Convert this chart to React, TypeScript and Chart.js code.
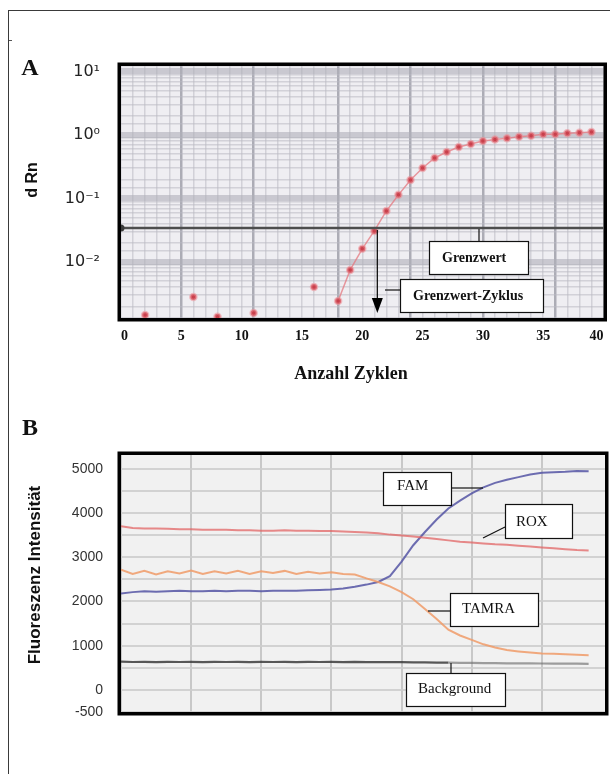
import React, { useEffect, useRef } from 'react';
import { Chart, registerables } from 'chart.js';
Chart.register(...registerables);

// ---------------- Panel A data (log dRn vs cycle) ----------------
const lowCycles = [2, 6, 8, 11, 16];
const lowDRn = [0.00146, 0.00281, 0.00137, 0.00157, 0.00404];
const curveCycles = [18, 19, 20, 21, 22, 23, 24, 25, 26, 27, 28, 29, 30, 31, 32, 33, 34, 35, 36, 37, 38, 39];
const curveDRn = [0.00243, 0.0075, 0.0161, 0.0308, 0.0636, 0.114, 0.196, 0.302, 0.434, 0.54, 0.647, 0.722, 0.805, 0.85, 0.887, 0.94, 0.975, 1.025, 1.025, 1.06, 1.087, 1.115];
const thresholdValue = 0.0343;
const thresholdCycle = 21.25;
const xLabelCyclesA = [0, 5, 10, 15, 20, 25, 30, 35, 40];
const yDecadesA = [0.01, 0.1, 1, 10];
const yLabelsA = ['10⁻²', '10⁻¹', '10⁰', '10¹'];
const xDarkGridA = [5, 11, 18, 24, 30, 36];

// ---------------- Panel B data (fluorescence vs cycle) ----------------
const cyclesB = [0, 1, 2, 3, 4, 5, 6, 7, 8, 9, 10, 11, 12, 13, 14, 15, 16, 17, 18, 19, 20, 21, 22, 23, 24, 25, 26, 27, 28, 29, 30, 31, 32, 33, 34, 35, 36, 37, 38, 39, 40];
const famB = [2180, 2210, 2230, 2220, 2230, 2240, 2230, 2230, 2240, 2230, 2240, 2240, 2230, 2240, 2240, 2240, 2250, 2260, 2270, 2290, 2330, 2380, 2440, 2570, 2900, 3270, 3570, 3850, 4100, 4280, 4440, 4580, 4680, 4750, 4810, 4870, 4910, 4920, 4930, 4950, 4940];
const roxB = [3700, 3660, 3650, 3650, 3640, 3630, 3630, 3620, 3620, 3620, 3610, 3610, 3600, 3600, 3610, 3600, 3600, 3590, 3590, 3580, 3570, 3560, 3540, 3510, 3490, 3470, 3440, 3410, 3380, 3350, 3330, 3310, 3290, 3280, 3260, 3240, 3220, 3200, 3180, 3160, 3150];
const tamraB = [2720, 2620, 2690, 2610, 2680, 2630, 2700, 2620, 2680, 2630, 2690, 2620, 2680, 2640, 2690, 2620, 2670, 2630, 2660, 2620, 2610, 2520, 2440, 2340, 2210, 2050, 1830, 1600, 1360, 1230, 1130, 1030, 960, 900, 870, 845, 825, 815, 805, 795, 785];
const backgroundB = [640, 630, 635, 628, 632, 630, 634, 628, 632, 630, 634, 628, 632, 630, 633, 628, 632, 630, 634, 629, 632, 628, 630, 626, 628, 624, 622, 618, 616, 612, 610, 606, 604, 600, 600, 598, 596, 594, 594, 592, 590];
const yGridB = [-500, 0, 500, 1000, 1500, 2000, 2500, 3000, 3500, 4000, 4500, 5000];
const yLabelsB = [-500, 0, 1000, 2000, 3000, 4000, 5000];
const xGridB = [0, 6, 12, 18, 24, 30, 36];

const SERIF = '"Liberation Serif", "Times New Roman", serif';
const SANS = '"Liberation Sans", Arial, sans-serif';

function drawBox(ctx: CanvasRenderingContext2D, x0: number, y0: number, x1: number, y1: number) {
  ctx.fillStyle = '#ffffff';
  ctx.fillRect(x0, y0, x1 - x0, y1 - y0);
  ctx.strokeStyle = '#111';
  ctx.lineWidth = 1.2;
  ctx.strokeRect(x0 + 0.5, y0 + 0.5, x1 - x0 - 1, y1 - y0 - 1);
}
function drawLine(ctx: CanvasRenderingContext2D, x0: number, y0: number, x1: number, y1: number, w = 1.2) {
  ctx.strokeStyle = '#111';
  ctx.lineWidth = w;
  ctx.beginPath();
  ctx.moveTo(x0, y0);
  ctx.lineTo(x1, y1);
  ctx.stroke();
}
function drawText(ctx: CanvasRenderingContext2D, t: string, x: number, y: number, font: string, align: CanvasTextAlign = 'left', baseline: CanvasTextBaseline = 'alphabetic') {
  ctx.fillStyle = '#111';
  ctx.font = font;
  ctx.textAlign = align;
  ctx.textBaseline = baseline;
  ctx.fillText(t, x, y);
}
function drawRotText(ctx: CanvasRenderingContext2D, t: string, x: number, y: number, font: string) {
  ctx.save();
  ctx.translate(x, y);
  ctx.rotate(-Math.PI / 2);
  drawText(ctx, t, 0, 0, font, 'center', 'middle');
  ctx.restore();
}
function frameArea(ctx: CanvasRenderingContext2D, a: any) {
  ctx.strokeStyle = '#000';
  ctx.lineWidth = 3.5;
  ctx.strokeRect(a.left - 1.75, a.top - 1.75, a.right - a.left + 3.5, a.bottom - a.top + 3.5);
}
function noPad(s: any) {
  s.paddingLeft = 0;
  s.paddingRight = 0;
  s.paddingTop = 0;
  s.paddingBottom = 0;
}

const isDecade = (v: number) => {
  const l = Math.log10(v);
  return Math.abs(l - Math.round(l)) < 1e-6;
};

const panelAPlugin = {
  id: 'panelA',
  beforeDraw(chart: any) {
    const { ctx, chartArea: a } = chart;
    ctx.save();
    ctx.fillStyle = '#efeef2';
    ctx.fillRect(a.left, a.top, a.right - a.left, a.bottom - a.top);
    ctx.restore();
  },
  afterDraw(chart: any) {
    const { ctx, chartArea: a, scales } = chart;
    const xs = scales.x, ys = scales.y;
    ctx.save();
    frameArea(ctx, a);
    // threshold-cycle arrow
    const ax = xs.getPixelForValue(thresholdCycle);
    const ay = ys.getPixelForValue(thresholdValue) + 2;
    const tip = a.bottom - 5;
    drawLine(ctx, ax, ay, ax, tip - 12, 1.3);
    ctx.fillStyle = '#000';
    ctx.beginPath();
    ctx.moveTo(ax - 5.5, tip - 15);
    ctx.lineTo(ax + 5.5, tip - 15);
    ctx.lineTo(ax, tip);
    ctx.closePath();
    ctx.fill();
    // Grenzwert box
    const L = a.left, T = a.top;
    const ty = ys.getPixelForValue(thresholdValue);
    drawLine(ctx, L + 358, ty + 1, L + 358, T + 175);
    drawBox(ctx, L + 308, T + 175, L + 408, T + 209);
    drawText(ctx, 'Grenzwert', L + 321, T + 196, 'bold 14px ' + SERIF);
    // Grenzwert-Zyklus box
    drawLine(ctx, L + 264, T + 224, L + 279, T + 224);
    drawBox(ctx, L + 279, T + 213, L + 423, T + 247);
    drawText(ctx, 'Grenzwert-Zyklus', L + 292, T + 234, 'bold 14px ' + SERIF);
    // panel letter & axis titles
    drawText(ctx, 'A', 30, 38.5, 'bold 24px ' + SERIF, 'center', 'middle');
    drawRotText(ctx, 'd Rn', 33, 150, 'bold 16px ' + SANS);
    drawText(ctx, 'Anzahl Zyklen', 351, 344, 'bold 18px ' + SERIF, 'center', 'middle');
    ctx.restore();
  },
};

const panelBPlugin = {
  id: 'panelB',
  beforeDraw(chart: any) {
    const { ctx, chartArea: a } = chart;
    ctx.save();
    ctx.fillStyle = '#f1f1f1';
    ctx.fillRect(a.left, a.top, a.right - a.left, a.bottom - a.top);
    ctx.restore();
  },
  afterDraw(chart: any) {
    const { ctx, chartArea: a } = chart;
    const L = a.left, T = a.top;
    ctx.save();
    frameArea(ctx, a);
    const f = '15px ' + SERIF;
    // FAM
    drawLine(ctx, L + 331, T + 33, L + 362, T + 33);
    drawBox(ctx, L + 262, T + 17, L + 331, T + 51);
    drawText(ctx, 'FAM', L + 276, T + 35, f);
    // ROX
    drawLine(ctx, L + 384, T + 72, L + 362, T + 83);
    drawBox(ctx, L + 384, T + 49, L + 452, T + 84);
    drawText(ctx, 'ROX', L + 395, T + 71, f);
    // TAMRA
    drawLine(ctx, L + 307, T + 156, L + 329, T + 156);
    drawBox(ctx, L + 329, T + 138, L + 418, T + 172);
    drawText(ctx, 'TAMRA', L + 341, T + 158, f);
    // Background
    drawLine(ctx, L + 330, T + 208, L + 330, T + 218);
    drawBox(ctx, L + 285, T + 218, L + 385, T + 252);
    drawText(ctx, 'Background', L + 297, T + 238, f);
    // letter & title
    drawText(ctx, 'B', 30, 28.5, 'bold 24px ' + SERIF, 'center', 'middle');
    drawRotText(ctx, 'Fluoreszenz Intensität', 35, 175, 'bold 17px ' + SANS);
    ctx.restore();
  },
};

export default function App() {
  const refA = useRef<HTMLCanvasElement>(null);
  const refB = useRef<HTMLCanvasElement>(null);

  useEffect(() => {
    const pointStyle = {
      pointRadius: 3,
      pointBackgroundColor: '#c8404c',
      pointBorderColor: 'rgba(236,140,148,0.55)',
      pointBorderWidth: 2.5,
    };
    const chartA = new Chart(refA.current!, {
      type: 'scatter',
      data: {
        datasets: [
          {
            label: 'Grenzwert',
            data: [{ x: 0, y: thresholdValue }, { x: 40, y: thresholdValue }],
            showLine: true,
            borderColor: '#4d4d4d',
            borderWidth: 2.5,
            pointRadius: [3.5, 0],
            pointBackgroundColor: '#3a3a3a',
            pointBorderWidth: 0,
          } as any,
          {
            label: 'dRn',
            data: curveCycles.map((c, i) => ({ x: c, y: curveDRn[i] })),
            showLine: true,
            borderColor: 'rgba(228,120,128,0.75)',
            borderWidth: 1.5,
            ...pointStyle,
          } as any,
          {
            label: 'dRn (Hintergrund)',
            data: lowCycles.map((c, i) => ({ x: c, y: lowDRn[i] })),
            showLine: false,
            ...pointStyle,
          } as any,
        ],
      },
      options: {
        animation: false,
        responsive: false,
        maintainAspectRatio: false,
        layout: { padding: { top: 36, right: 5, left: 0, bottom: 0 } },
        plugins: { legend: { display: false }, tooltip: { enabled: false } },
        scales: {
          x: {
            type: 'linear',
            min: 0,
            max: 40,
            ticks: {
              stepSize: 1,
              autoSkip: false,
              maxRotation: 0,
              align: 'inner',
              padding: 10,
              color: '#111',
              font: { family: SERIF, size: 14, weight: 'bold' },
              callback: (v: any) => (xLabelCyclesA.includes(v) ? String(v) : ''),
            },
            grid: {
              drawTicks: false,
              color: (c: any) => (xDarkGridA.includes(c.tick?.value) ? 'rgba(150,150,160,0.75)' : 'rgba(185,185,195,0.55)'),
              lineWidth: (c: any) => (xDarkGridA.includes(c.tick?.value) ? 2.5 : 1.5),
            },
            border: { display: false },
            afterFit: (s: any) => { s.height = 82; noPad(s); },
          } as any,
          y: {
            type: 'logarithmic',
            min: 0.00131,
            max: 12.2,
            ticks: {
              autoSkip: false,
              padding: 21,
              color: '#222',
              font: { family: '"DejaVu Sans", sans-serif', size: 16 },
              callback: (v: any) => {
                const i = yDecadesA.findIndex((d) => Math.abs(d - v) / d < 1e-6);
                return i >= 0 ? yLabelsA[i] : '';
              },
            },
            grid: {
              drawTicks: false,
              color: (c: any) => (c.tick && isDecade(c.tick.value) ? 'rgba(175,175,185,0.6)' : 'rgba(185,185,195,0.55)'),
              lineWidth: (c: any) => (c.tick && isDecade(c.tick.value) ? 6 : 1.5),
            },
            border: { display: false },
            afterFit: (s: any) => { s.width = 121; noPad(s); },
          } as any,
        },
      },
      plugins: [panelAPlugin],
    });

    const pts = (arr: number[]) => cyclesB.map((c, i) => ({ x: c, y: arr[i] }));
    const chartB = new Chart(refB.current!, {
      type: 'line',
      data: {
        datasets: [
          { label: 'Background', data: pts(backgroundB), borderWidth: 2.2, pointRadius: 0,
            segment: { borderColor: (c: any) => (c.p0.parsed.x >= 28 ? 'rgba(110,110,110,0.65)' : 'rgba(60,60,60,0.85)') },
            borderColor: 'rgba(60,60,60,0.85)' } as any,
          { label: 'TAMRA', data: pts(tamraB), borderColor: 'rgba(240,155,105,0.85)', borderWidth: 2, pointRadius: 0 },
          { label: 'ROX', data: pts(roxB), borderColor: 'rgba(225,100,100,0.75)', borderWidth: 2, pointRadius: 0 },
          { label: 'FAM', data: pts(famB), borderColor: 'rgba(85,85,165,0.85)', borderWidth: 2, pointRadius: 0 },
        ],
      },
      options: {
        animation: false,
        responsive: false,
        maintainAspectRatio: false,
        layout: { padding: { top: 55, right: 5, left: 0, bottom: 0 } },
        plugins: { legend: { display: false }, tooltip: { enabled: false } },
        scales: {
          x: {
            type: 'linear',
            min: 0,
            max: 41.4,
            afterBuildTicks: (s: any) => { s.ticks = xGridB.map((v) => ({ value: v })); },
            ticks: { display: false },
            grid: { drawTicks: false, color: 'rgba(190,190,190,0.8)', lineWidth: 2 },
            border: { display: false },
            afterFit: (s: any) => { s.height = 62; noPad(s); },
          } as any,
          y: {
            type: 'linear',
            min: -500,
            max: 5310,
            afterBuildTicks: (s: any) => { s.ticks = yGridB.map((v) => ({ value: v })); },
            ticks: {
              autoSkip: false,
              padding: 18,
              color: '#333',
              font: { family: SANS, size: 14 },
              callback: (v: any) => (yLabelsB.includes(v) ? String(v) : ''),
            },
            grid: { drawTicks: false, color: 'rgba(205,205,205,0.85)', lineWidth: 2 },
            border: { display: false },
            afterFit: (s: any) => { s.width = 121; noPad(s); },
          } as any,
        },
      },
      plugins: [panelBPlugin],
    });

    return () => {
      chartA.destroy();
      chartB.destroy();
    };
  }, []);

  return (
    <div style={{ position: 'fixed', left: 0, top: 0, width: 610, height: 774, overflow: 'hidden', background: '#fff' }}>
      <div style={{ position: 'absolute', left: 8, top: 10, width: 700, height: 800, borderTop: '1.5px solid #3a3a3a', borderLeft: '1.5px solid #3a3a3a' }} />
      <div style={{ position: 'absolute', left: 9, top: 40, width: 3, height: 1, background: '#555' }} />
      <canvas ref={refA} width={610} height={370} style={{ position: 'absolute', left: 0, top: 30, width: 610, height: 370 }} />
      <canvas ref={refB} width={610} height={374} style={{ position: 'absolute', left: 0, top: 400, width: 610, height: 374 }} />
    </div>
  );
}
